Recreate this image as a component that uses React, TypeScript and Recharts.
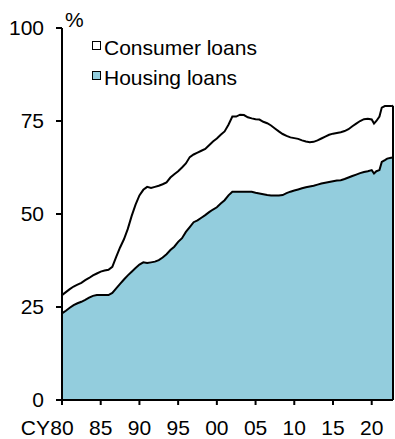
import React from "react";
import {
  AreaChart,
  Area,
  XAxis,
  YAxis,
  ReferenceLine,
} from "recharts";

// calendar years (half-yearly, a little denser around 2020)
const years = [
  1980, 1980.5, 1981, 1981.5, 1982, 1982.5, 1983, 1983.5, 1984, 1984.5,
  1985, 1985.5, 1986, 1986.5, 1987, 1987.5, 1988, 1988.5, 1989, 1989.5,
  1990, 1990.5, 1991, 1991.5, 1992, 1992.5, 1993, 1993.5, 1994, 1994.5,
  1995, 1995.5, 1996, 1996.5, 1997, 1997.5, 1998, 1998.5, 1999, 1999.5,
  2000, 2000.5, 2001, 2001.5, 2002, 2002.5, 2003, 2003.5, 2004, 2004.5,
  2005, 2005.5, 2006, 2006.5, 2007, 2007.5, 2008, 2008.5, 2009, 2009.5,
  2010, 2010.5, 2011, 2011.5, 2012, 2012.5, 2013, 2013.5, 2014, 2014.5,
  2015, 2015.5, 2016, 2016.5, 2017, 2017.5, 2018, 2018.5, 2019, 2019.5,
  2020, 2020.3, 2020.6, 2021, 2021.3, 2021.7, 2022, 2022.5, 2022.75,
];

// consumer loans incl. housing (top line), %
const consumerLoans = [
  28.2, 29, 29.8, 30.5, 31, 31.5, 32.2, 32.8, 33.5, 34,
  34.5, 34.8, 35, 35.8, 38.5, 41, 43.2, 46, 49.5, 52.5,
  55, 56.5, 57.3, 57, 57.3, 57.6, 58, 58.5, 59.8, 60.7,
  61.5, 62.5, 63.6, 65.3, 66, 66.5, 67, 67.5, 68.5, 69.5,
  70.3, 71.3, 72.2, 74, 76.2, 76.2, 76.7, 76.6, 76, 75.7,
  75.5, 75.4, 74.8, 74.4, 73.8, 73, 72.2, 71.5, 71, 70.6,
  70.4, 70.2, 69.8, 69.5, 69.3, 69.4, 69.8, 70.3, 70.8, 71.3,
  71.6, 71.8, 72, 72.3, 72.8, 73.6, 74.3, 75, 75.5, 75.6,
  75.4, 74.3, 75, 76.2, 78.6, 79, 79, 79, 79.1,
];

// housing loans, %
const housingLoans = [
  23.3, 24, 24.8, 25.5, 26, 26.4, 26.9, 27.5, 28, 28.2,
  28.2, 28.2, 28.2, 28.8, 30, 31.2, 32.4, 33.5, 34.5, 35.5,
  36.4, 37, 36.8, 37, 37.2, 37.6, 38.3, 39.2, 40.3, 41.2,
  42.5, 43.5, 45.2, 46.5, 47.8, 48.3, 49, 49.7, 50.5, 51.2,
  51.8, 52.8, 53.7, 55, 56, 56, 56, 56, 56, 56,
  55.7, 55.5, 55.3, 55.1, 55, 55, 55, 55.1, 55.6, 56,
  56.3, 56.6, 56.9, 57.2, 57.4, 57.6, 57.9, 58.2, 58.4, 58.6,
  58.8, 59, 59.1, 59.4, 59.8, 60.2, 60.6, 61, 61.3, 61.5,
  61.8, 60.9, 61.5, 61.8, 64, 64.5, 64.9, 65.1, 65.2,
];

const xTicks = [1980, 1985, 1990, 1995, 2000, 2005, 2010, 2015, 2020];
const yTicks = [0, 25, 50, 75, 100];

const data = years.map((year, i) => ({
  year,
  consumer: consumerLoans[i],
  housing: housingLoans[i],
}));

const FONT = "'Liberation Sans', Arial, sans-serif";
const FS = 21;

const XTick = (props: any) => {
  const { x, y, payload } = props;
  const label = String(payload.value % 100).padStart(2, "0");
  return (
    <g>
      <text x={x} y={y} dy="0.71em" textAnchor="middle" fontSize={FS} fontFamily={FONT} fill="#000">
        {label}
      </text>
      {payload.value === 1980 && (
        <text x={x - 12} y={y} dy="0.71em" textAnchor="end" fontSize={FS} fontFamily={FONT} fill="#000">
          CY
        </text>
      )}
    </g>
  );
};

const last = data[data.length - 1];

export default function App() {
  return (
    <div style={{ position: "absolute", left: 0, top: 0, width: 395, height: 439, background: "#fff", fontFamily: FONT }}>
      <AreaChart width={395} height={439} data={data} margin={{ top: 28, right: 2, left: 0, bottom: 0 }}>
        <XAxis
          dataKey="year"
          type="number"
          domain={[1980, 2022.75]}
          ticks={xTicks}
          tick={<XTick />}
          tickSize={5}
          tickMargin={15}
          height={39}
          axisLine={{ stroke: "#000", strokeWidth: 2 }}
          tickLine={{ stroke: "#000", strokeWidth: 2 }}
          allowDataOverflow
        />
        <YAxis
          type="number"
          domain={[0, 100]}
          ticks={yTicks}
          width={62}
          tickSize={6}
          tickMargin={12}
          axisLine={{ stroke: "#000", strokeWidth: 2 }}
          tickLine={{ stroke: "#000", strokeWidth: 2 }}
          tick={{ fill: "#000", fontSize: FS, fontFamily: FONT }}
        />
        <Area
          type="linear"
          dataKey="consumer"
          stroke="#000"
          strokeWidth={2}
          fill="#fff"
          fillOpacity={1}
          dot={false}
          activeDot={false}
          isAnimationActive={false}
        />
        <Area
          type="linear"
          dataKey="housing"
          stroke="#000"
          strokeWidth={2}
          fill="#93cddd"
          fillOpacity={1}
          dot={false}
          activeDot={false}
          isAnimationActive={false}
        />
        <ReferenceLine
          segment={[
            { x: last.year, y: 0 },
            { x: last.year, y: last.consumer },
          ]}
          stroke="#000"
          strokeWidth={2}
        />
      </AreaChart>

      {/* unit label */}
      <div style={{ position: "absolute", left: 65, top: 9, fontSize: FS, lineHeight: FS + "px" }}>%</div>

      {/* legend */}
      <div style={{ position: "absolute", left: 92, top: 41, width: 7, height: 7, border: "1.5px solid #000", background: "#fff" }} />
      <div style={{ position: "absolute", left: 104, top: 37, fontSize: FS, lineHeight: FS + "px", whiteSpace: "nowrap" }}>Consumer loans</div>
      <div style={{ position: "absolute", left: 92, top: 71, width: 7, height: 7, border: "1.5px solid #000", background: "#93cddd" }} />
      <div style={{ position: "absolute", left: 104, top: 67, fontSize: FS, lineHeight: FS + "px", whiteSpace: "nowrap" }}>Housing loans</div>
    </div>
  );
}
